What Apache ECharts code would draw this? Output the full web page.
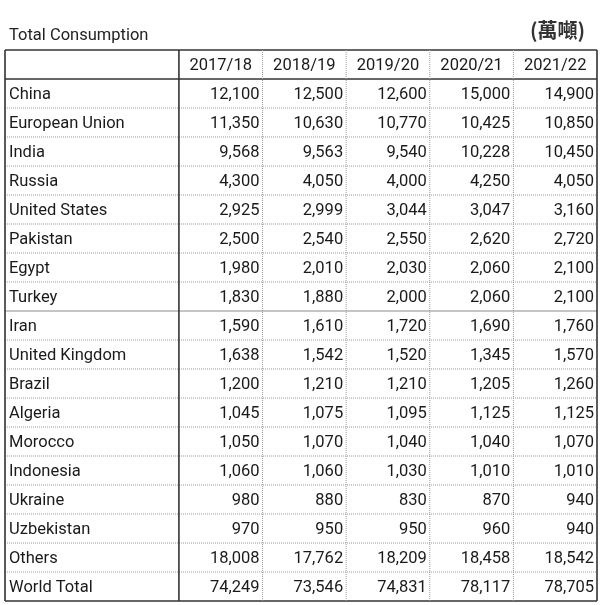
<!DOCTYPE html>
<html>
<head>
<meta charset="utf-8">
<script src="https://cdn.jsdelivr.net/npm/echarts@6/dist/echarts.min.js"></script>
<style>
  html, body { margin: 0; padding: 0; background: #fff; }
  #main { width: 602px; height: 605px; }
</style>
</head>
<body>
<div id="main"></div>
<script>
// 表格数据
const years = ['2017/18', '2018/19', '2019/20', '2020/21', '2021/22'];
const countries = ['China', 'European Union', 'India', 'Russia', 'United States', 'Pakistan',
  'Egypt', 'Turkey', 'Iran', 'United Kingdom', 'Brazil', 'Algeria', 'Morocco', 'Indonesia',
  'Ukraine', 'Uzbekistan', 'Others', 'World Total'];
const v2017 = [12100, 11350, 9568, 4300, 2925, 2500, 1980, 1830, 1590, 1638, 1200, 1045, 1050, 1060, 980, 970, 18008, 74249];
const v2018 = [12500, 10630, 9563, 4050, 2999, 2540, 2010, 1880, 1610, 1542, 1210, 1075, 1070, 1060, 880, 950, 17762, 73546];
const v2019 = [12600, 10770, 9540, 4000, 3044, 2550, 2030, 2000, 1720, 1520, 1210, 1095, 1040, 1030, 830, 950, 18209, 74831];
const v2020 = [15000, 10425, 10228, 4250, 3047, 2620, 2060, 2060, 1690, 1345, 1205, 1125, 1040, 1010, 870, 960, 18458, 78117];
const v2021 = [14900, 10850, 10450, 4050, 3160, 2720, 2100, 2100, 1760, 1570, 1260, 1125, 1070, 1010, 940, 940, 18542, 78705];
const columns = [v2017, v2018, v2019, v2020, v2021];

const NAME_W = 2.08; // 第一列宽度（以年份列宽为单位）
const nRows = countries.length + 1;
const xEnd = NAME_W + years.length;
const FONT = 'Roboto';

// 单元格
const cellData = [];
const cellText = [];
const cellAlign = [];
years.forEach((y, i) => {
  cellData.push([NAME_W + i, NAME_W + i + 1, 0]);
  cellText.push(y);
  cellAlign.push('center');
});
countries.forEach((c, r) => {
  cellData.push([0, NAME_W, r + 1]);
  cellText.push(c);
  cellAlign.push('left');
  columns.forEach((col, i) => {
    cellData.push([NAME_W + i, NAME_W + i + 1, r + 1]);
    cellText.push(col[r].toLocaleString('en-US'));
    cellAlign.push('right');
  });
});

// 表格线: [x1, y1, x2, y2, kind]  kind 0=虚线 1=粗实线 2=细实线
const lineData = [];
for (let r = 0; r <= nRows; r++) {
  let kind = 0;
  if (r === 0 || r === 1 || r === nRows) kind = 1;
  else if (r === 9) kind = 2;
  lineData.push([0, r, xEnd, r, kind]);
}
const xs = [0, NAME_W];
years.forEach((y, i) => xs.push(NAME_W + i + 1));
xs.forEach((x, i) => {
  const kind = (i === 0 || i === 1 || i === xs.length - 1) ? 1 : 0;
  lineData.push([x, 0, x, nRows, kind]);
});

const lineStyles = [
  { stroke: '#9a9a9a', lineWidth: 1, lineDash: [1, 1] },
  { stroke: '#333', lineWidth: 1.6 },
  { stroke: '#8a8a8a', lineWidth: 1 }
];

const chart = echarts.init(document.getElementById('main'));
chart.setOption({
  animation: false,
  title: [
    {
      text: 'Total Consumption', left: 4, top: 22,
      textStyle: { fontFamily: FONT, fontSize: 16.5, fontWeight: 'normal', color: '#222' }
    },
    {
      text: '(萬噸)', right: 12, top: 15,
      textStyle: { fontFamily: 'Noto Sans CJK TC', fontSize: 20, fontWeight: 'bold', color: '#333' }
    }
  ],
  grid: { left: 5, right: 5, top: 50, bottom: 4 },
  xAxis: { type: 'value', min: 0, max: xEnd, show: false },
  yAxis: { type: 'value', min: 0, max: nRows, inverse: true, show: false },
  series: [
    {
      type: 'custom',
      silent: true,
      data: cellData,
      encode: { x: [0, 1], y: 2 },
      renderItem: (params, api) => {
        const r = api.value(2);
        const a = api.coord([api.value(0), r + 0.5]);
        const b = api.coord([api.value(1), r + 0.5]);
        const align = cellAlign[params.dataIndex];
        let x = (a[0] + b[0]) / 2;
        if (align === 'left') x = a[0] + 4;
        if (align === 'right') x = b[0] - 3;
        return {
          type: 'text',
          style: {
            x: x, y: a[1] + 1,
            text: cellText[params.dataIndex],
            align: align, verticalAlign: 'middle',
            fontFamily: FONT, fontSize: 16.5, fill: '#1a1a1a'
          }
        };
      }
    },
    {
      type: 'custom',
      silent: true,
      data: lineData,
      encode: { x: [0, 2], y: [1, 3] },
      renderItem: (params, api) => {
        const p1 = api.coord([api.value(0), api.value(1)]);
        const p2 = api.coord([api.value(2), api.value(3)]);
        return {
          type: 'line',
          shape: { x1: p1[0], y1: p1[1], x2: p2[0], y2: p2[1] },
          style: lineStyles[api.value(4)]
        };
      }
    }
  ]
});
</script>
</body>
</html>
